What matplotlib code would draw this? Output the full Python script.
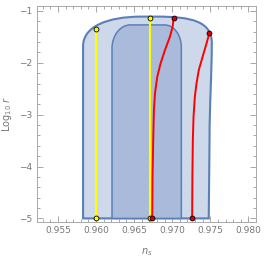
import numpy as np
import matplotlib.pyplot as plt
from matplotlib.patches import PathPatch
from matplotlib.path import Path
from matplotlib.ticker import MultipleLocator

M, L, C, Z = Path.MOVETO, Path.LINETO, Path.CURVE4, Path.CLOSEPOLY

# 2-sigma (outer) and 1-sigma (inner) regions (bezier outline)
outer_pts = [(0.9583, -5.0), (0.9583, -1.68),
             (0.9583, -1.30), (0.9615, -1.11), (0.9660, -1.11),
             (0.9680, -1.11),
             (0.9725, -1.11), (0.9752, -1.20), (0.9752, -1.62),
             (0.9752, -2.2), (0.9749, -2.8), (0.9749, -3.5),
             (0.9748, -5.0), (0.9583, -5.0)]
outer_codes = [M, L, C, C, C, L, C, C, C, C, C, C, L, Z]
inner_pts = [(0.9621, -5.0), (0.9621, -1.72),
             (0.9621, -1.47), (0.9632, -1.27), (0.9645, -1.27),
             (0.9690, -1.27),
             (0.9702, -1.27), (0.9712, -1.46), (0.9712, -1.70),
             (0.9712, -5.0), (0.9621, -5.0)]
inner_codes = [M, L, C, C, C, L, C, C, C, L, Z]

# yellow predictions (vertical)
yel_ns = [0.9600, 0.9671]
yel_top = [-1.34, -1.14]

# red predictions
red1_ns = [0.96738, 0.96742, 0.96751, 0.96760, 0.96774, 0.96804, 0.96848, 0.96904,
           0.96970, 0.97005, 0.97018]
red1_r = [-5.0, -4.2, -3.49, -2.91, -2.59, -2.27, -2.01, -1.76, -1.50, -1.31, -1.146]
red2_ns = [0.97262, 0.97265, 0.97271, 0.97280, 0.97297, 0.97319, 0.97349, 0.97398,
           0.97450, 0.97489]
red2_r = [-5.0, -4.2, -3.49, -3.04, -2.66, -2.40, -2.14, -1.89, -1.63, -1.424]

edge = '#5b80b8'
gray = '#777777'

fig = plt.figure(figsize=(2.65, 2.60), dpi=100)
ax = fig.add_axes([0.141, 0.148, 0.825, 0.830])

ax.add_patch(PathPatch(Path(outer_pts, outer_codes), facecolor='#cdd8ea',
                       edgecolor=edge, lw=1.5, zorder=1))
ax.add_patch(PathPatch(Path(inner_pts, inner_codes), facecolor='#a9badb',
                       edgecolor=edge, lw=1.1, zorder=2))

for x, t in zip(yel_ns, yel_top):
    ax.plot([x, x], [-5.0, t], color='#ffff00', lw=1.5, zorder=3)
    ax.plot([x, x], [-5.0, t], 'o', ms=3.5, mfc='#ffff00', mec='black', mew=0.6, zorder=5)

for xs, ys in [(red1_ns, red1_r), (red2_ns, red2_r)]:
    ax.plot(xs, ys, color='#ff0000', lw=1.4, zorder=4)
    ax.plot([xs[0], xs[-1]], [ys[0], ys[-1]], 'o', ms=3.5, mfc='#dd0000', mec='black', mew=0.6, zorder=5)

ax.set_xlim(0.9523, 0.9810)
ax.set_ylim(-5.06, -0.90)
ax.xaxis.set_major_locator(MultipleLocator(0.005))
ax.xaxis.set_minor_locator(MultipleLocator(0.001))
ax.yaxis.set_major_locator(MultipleLocator(1))
ax.yaxis.set_minor_locator(MultipleLocator(0.2))
ax.set_xticklabels([f'{v:.3f}' for v in ax.get_xticks()])
ax.tick_params(which='both', direction='in', top=True, right=True, color='#999999',
               labelsize=6.5, labelcolor=gray, width=0.6)
ax.tick_params(which='major', length=4)
ax.tick_params(which='minor', length=2)
for s in ax.spines.values():
    s.set_color('#aaaaaa')
    s.set_linewidth(0.7)

ax.set_xlabel('$n_s$', color=gray, fontsize=7, labelpad=8)
ax.set_ylabel('Log$_{10}$ $r$', color=gray, fontsize=7, labelpad=4)

fig.savefig('out.png', dpi=100)
